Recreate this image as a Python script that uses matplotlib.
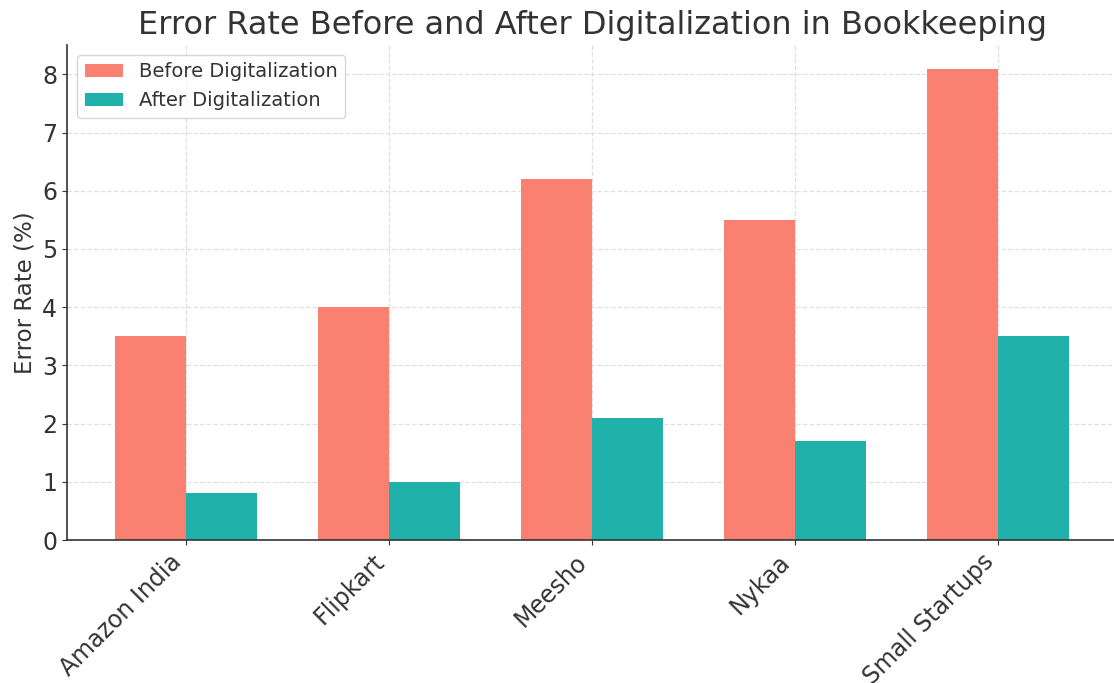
import matplotlib
matplotlib.use("Agg")
import matplotlib.pyplot as plt
import numpy as np

categories = ["Amazon India", "Flipkart", "Meesho", "Nykaa", "Small Startups"]
before = [3.5, 4.0, 6.2, 5.5, 8.1]
after = [0.8, 1.0, 2.1, 1.7, 3.5]

W, H = 1114, 683
fig = plt.figure(figsize=(W / 100, H / 100), dpi=100)
ax = fig.add_axes([67 / W, 1 - 540 / H, (1117 - 67) / W, (540 - 45) / H])

x = np.arange(len(categories))
bw = 0.35
ax.bar(x - bw / 2, before, bw, label="Before Digitalization", color="#FA8072")
ax.bar(x + bw / 2, after, bw, label="After Digitalization", color="#20B2AA")

ax.set_xticks(x)
ax.set_xticklabels(categories, rotation=45, ha="right", fontsize=17, color="#333333")
ax.tick_params(axis="y", labelsize=17, labelcolor="#333333")
ax.tick_params(colors="#333333")
ax.set_ylabel("Error Rate (%)", fontsize=16.5, color="#333333")
ax.set_title("Error Rate Before and After Digitalization in Bookkeeping", fontsize=23, color="#333333", pad=8)
ax.grid(True, linestyle="--", color="#e0e0e0", linewidth=0.9)
ax.set_axisbelow(True)
for s in ["top", "right"]:
    ax.spines[s].set_visible(False)
for s in ["left", "bottom"]:
    ax.spines[s].set_color("#333333")
    ax.spines[s].set_linewidth(1.2)
ax.legend(loc="upper left", fontsize=14, labelcolor="#333333")

fig.savefig("out.png", dpi=100)
